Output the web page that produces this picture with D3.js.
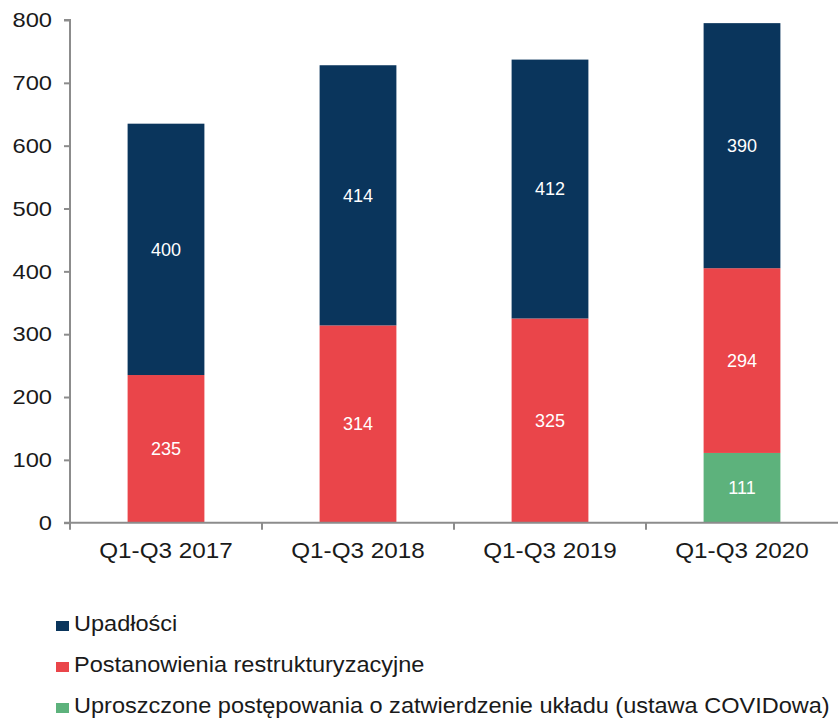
<!DOCTYPE html>
<html>
<head>
<meta charset="utf-8">
<script src="https://cdn.jsdelivr.net/npm/d3@7"></script>
<style>
  body { margin: 0; background: #fff; }
  svg { display: block; font-family: "Liberation Sans", Arial, sans-serif; }
</style>
</head>
<body>
<div id="chart"></div>
<script>
const categories = ['Q1-Q3 2017', 'Q1-Q3 2018', 'Q1-Q3 2019', 'Q1-Q3 2020'];
const uproszczone = [0, 0, 0, 111];
const postanowienia = [235, 314, 325, 294];
const upadlosci = [400, 414, 412, 390];
const yTicks = [0, 100, 200, 300, 400, 500, 600, 700, 800];

const seriesDefs = [
  { key: 'uproszczone', name: 'Uproszczone postępowania o zatwierdzenie układu (ustawa COVIDowa)', values: uproszczone, color: '#5db27c' },
  { key: 'postanowienia', name: 'Postanowienia restrukturyzacyjne', values: postanowienia, color: '#ea454a' },
  { key: 'upadlosci', name: 'Upadłości', values: upadlosci, color: '#0a355c' }
];

const width = 838, height = 722;
const sx = 1.13; // text in the original is drawn a bit wide
const svg = d3.select('#chart').append('svg')
  .attr('width', width)
  .attr('height', height);

const x = d3.scaleBand().domain(categories).range([70, 838]).paddingInner(0).paddingOuter(0);
const y = d3.scaleLinear().domain([0, 800]).range([522.7, 20]);
const barW = x.bandwidth() * 0.4;

const rows = categories.map((c, i) => {
  const r = { cat: c };
  seriesDefs.forEach(s => { r[s.key] = s.values[i]; });
  return r;
});
const stacked = d3.stack().keys(seriesDefs.map(s => s.key))(rows);

// Bars
stacked.forEach((layer, li) => {
  const def = seriesDefs[li];
  const g = svg.append('g');
  g.selectAll('rect')
    .data(layer.filter(d => d[1] - d[0] > 0))
    .join('rect')
    .attr('x', d => x(d.data.cat) + (x.bandwidth() - barW) / 2)
    .attr('y', d => y(d[1]))
    .attr('width', barW)
    .attr('height', d => y(d[0]) - y(d[1]))
    .attr('fill', def.color);
  g.selectAll('text')
    .data(layer.filter(d => d[1] - d[0] > 0))
    .join('text')
    .attr('x', d => x(d.data.cat) + x.bandwidth() / 2)
    .attr('y', d => (y(d[0]) + y(d[1])) / 2)
    .attr('dy', '0.35em')
    .attr('text-anchor', 'middle')
    .attr('fill', '#fff')
    .style('font-size', '18px')
    .text(d => d[1] - d[0]);
});

// Y axis
const yAxis = svg.append('g')
  .attr('transform', 'translate(70,0)')
  .call(d3.axisLeft(y).tickValues(yTicks).tickSize(6).tickPadding(8));
yAxis.select('.domain').attr('stroke', '#8c8c8c').attr('stroke-width', 2).attr('d', `M-6,${y(800)}H0V${y(0)}`);
yAxis.selectAll('.tick line').attr('stroke', '#8c8c8c').attr('stroke-width', 2);
yAxis.selectAll('.tick text')
  .attr('fill', '#1a1a1a')
  .attr('x', -18 / sx)
  .attr('transform', `scale(${sx},1)`)
  .style('font-size', '21px')
  .style('font-family', '"Liberation Sans", Arial, sans-serif');

// X axis
svg.append('line')
  .attr('x1', 64).attr('x2', 838)
  .attr('y1', y(0)).attr('y2', y(0))
  .attr('stroke', '#8c8c8c').attr('stroke-width', 2);
svg.append('g').selectAll('line')
  .data(categories)
  .join('line')
  .attr('x1', d => x(d)).attr('x2', d => x(d))
  .attr('y1', y(0)).attr('y2', y(0) + 7)
  .attr('stroke', '#8c8c8c').attr('stroke-width', 2);
svg.append('g').selectAll('text')
  .data(categories)
  .join('text')
  .attr('transform', d => `translate(${x(d) + x.bandwidth() / 2},558) scale(${sx},1)`)
  .attr('text-anchor', 'middle')
  .attr('fill', '#1a1a1a')
  .style('font-size', '21.5px')
  .text(d => d);

// Legend
const legendOrder = [seriesDefs[2], seriesDefs[1], seriesDefs[0]];
const legendBase = [631, 672, 713];
const legend = svg.append('g');
legend.selectAll('rect')
  .data(legendOrder)
  .join('rect')
  .attr('x', 56)
  .attr('y', (d, i) => legendBase[i] - 10)
  .attr('width', 13)
  .attr('height', 10)
  .attr('fill', d => d.color);
legend.selectAll('text')
  .data(legendOrder)
  .join('text')
  .attr('transform', (d, i) => `translate(74,${legendBase[i]}) scale(1.07,1)`)
  .attr('fill', '#1a1a1a')
  .style('font-size', '22px')
  .text(d => d.name);
</script>
</body>
</html>
